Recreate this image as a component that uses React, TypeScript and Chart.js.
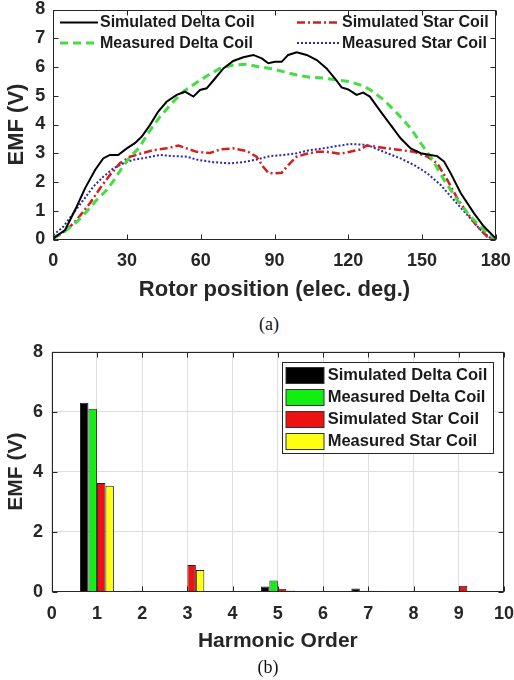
import React, { useEffect, useRef } from 'react';
import { Chart, registerables } from 'chart.js';

Chart.register(...registerables);

const FONT = '"Liberation Sans", Arial, Helvetica, sans-serif';
const INK = '#262626';

// ---------- (a) back-EMF waveforms ----------
const seriesNames = ['Simulated Delta Coil', 'Measured Delta Coil', 'Simulated Star Coil', 'Measured Star Coil'];

const simDeltaDeg = [0, 4.8, 9.5, 12.9, 17, 20.3, 23, 26.4, 29.9, 33.2, 36, 39.3, 42.7, 46.1, 50.2, 53.6, 57, 59.7, 62.4, 65.8, 69.2, 73.2, 77.3, 81.4, 84.8, 87.5, 90.2, 92.9, 95.6, 99, 103.1, 107.2, 111.2, 114.6, 117.3, 120, 123.4, 126.1, 128.8, 133.2, 137.3, 141.3, 145.4, 149.5, 153.5, 156.2, 159, 161.7, 165.8, 171.2, 175.2, 180];
const simDeltaEmf = [0.04, 0.33, 1.14, 1.78, 2.42, 2.82, 2.94, 2.94, 3.17, 3.35, 3.58, 3.98, 4.45, 4.79, 5.03, 5.14, 4.97, 5.2, 5.26, 5.6, 5.95, 6.21, 6.34, 6.42, 6.3, 6.13, 6.18, 6.18, 6.42, 6.51, 6.42, 6.24, 5.95, 5.6, 5.29, 5.22, 5.03, 5.11, 4.97, 4.45, 3.98, 3.52, 3.17, 3.0, 2.94, 2.9, 2.71, 2.3, 1.61, 0.91, 0.45, 0.04];

const measDeltaDeg = [0, 5, 10, 13.6, 17.6, 21.7, 25, 28, 31, 35, 39, 43.4, 48.2, 52.9, 57.6, 63.1, 67.8, 73.2, 78.7, 83.4, 88.2, 93.6, 99, 104.4, 109.8, 115.3, 120.7, 126.1, 129.1, 134.5, 139.9, 145.4, 149.5, 153.5, 159, 164.4, 169.8, 175.2, 179.3];
const measDeltaEmf = [0.04, 0.3, 0.65, 0.97, 1.37, 1.72, 2.1, 2.5, 2.85, 3.2, 3.75, 4.27, 4.74, 5.14, 5.42, 5.72, 5.95, 6.07, 6.1, 6.01, 5.95, 5.84, 5.72, 5.64, 5.62, 5.55, 5.49, 5.34, 5.2, 4.85, 4.39, 3.87, 3.35, 2.88, 2.07, 1.37, 0.79, 0.33, 0.04];

const simStarDeg = [0, 5.4, 9.5, 14.9, 19, 23, 27.1, 31.2, 35.3, 40.7, 46.1, 50.9, 54.3, 58.3, 63.8, 67.8, 73.2, 78.7, 82.7, 85.4, 87.5, 90.2, 92.9, 95.6, 99, 103.1, 107.2, 111.2, 116.6, 120.7, 124.8, 127.5, 130.5, 135.9, 141.3, 146.8, 152.2, 156.2, 160.3, 164.4, 168.5, 172.5, 176.6, 179.3];
const simStarEmf = [0.04, 0.33, 0.68, 1.26, 1.78, 2.24, 2.65, 2.88, 2.98, 3.11, 3.17, 3.27, 3.17, 3.05, 3.01, 3.13, 3.17, 3.08, 2.88, 2.53, 2.32, 2.3, 2.32, 2.59, 2.88, 2.98, 3.05, 3.05, 2.98, 3.05, 3.13, 3.27, 3.24, 3.17, 3.11, 3.05, 2.88, 2.65, 2.07, 1.43, 0.91, 0.45, 0.1, 0.0];

const measStarDeg = [0, 4.1, 8.1, 12.2, 16.3, 20.3, 24.4, 28.5, 32.5, 38, 43.4, 48.8, 54.3, 58.3, 65.1, 71.9, 77.3, 82.7, 88.2, 93.6, 99, 104.4, 109.8, 115.3, 120.7, 126.1, 129.1, 135.9, 141.3, 146.8, 152.2, 157.6, 163, 168.5, 173.9, 178, 179.5];
const measStarEmf = [0.15, 0.45, 0.91, 1.37, 1.84, 2.18, 2.47, 2.65, 2.77, 2.85, 2.94, 2.9, 2.88, 2.78, 2.69, 2.65, 2.69, 2.78, 2.9, 2.94, 3.0, 3.11, 3.17, 3.25, 3.32, 3.3, 3.24, 3.0, 2.82, 2.59, 2.3, 1.9, 1.37, 0.85, 0.33, 0.04, 0.02];

const angleTicks = [0, 30, 60, 90, 120, 150, 180];

// ---------- (b) harmonic spectrum ----------
const harmonicOrders = [1, 2, 3, 4, 5, 6, 7, 8, 9];
const simDeltaHarm = [6.3, null, null, null, 0.17, null, 0.11, null, null];
const measDeltaHarm = [6.1, 0.03, null, null, 0.37, null, 0.03, null, null];
const simStarHarm = [3.62, null, 0.89, null, 0.1, null, 0.03, null, 0.2];
const measStarHarm = [3.53, null, 0.72, null, 0.04, null, 0.02, null, null];

const pts = (xs: number[], ys: (number | null)[]) => xs.map((x, i) => ({ x, y: ys[i] }));

const boxPlugin = {
  id: 'matlabBox',
  afterDraw(chart: any) {
    const { ctx, chartArea, scales } = chart;
    const L = Math.round(chartArea.left) + 0.5;
    const R = Math.round(chartArea.right) - 0.5;
    const T = Math.round(chartArea.top) + 0.5;
    const B = Math.round(chartArea.bottom) - 0.5;
    ctx.save();
    ctx.strokeStyle = INK;
    ctx.lineWidth = 1;
    ctx.setLineDash([]);
    ctx.strokeRect(L, T, R - L, B - T);
    const len = 5;
    ctx.beginPath();
    scales.x.ticks.forEach((_: any, i: number) => {
      const p = Math.round(scales.x.getPixelForTick(i)) + 0.5;
      ctx.moveTo(p, B); ctx.lineTo(p, B - len);
      ctx.moveTo(p, T); ctx.lineTo(p, T + len);
    });
    scales.y.ticks.forEach((_: any, i: number) => {
      const p = Math.round(scales.y.getPixelForTick(i)) + 0.5;
      ctx.moveTo(L, p); ctx.lineTo(L + len, p);
      ctx.moveTo(R, p); ctx.lineTo(R - len, p);
    });
    ctx.stroke();
    ctx.restore();
  },
};

const lineLegendPlugin = {
  id: 'lineLegend',
  afterDraw(chart: any) {
    const { ctx, chartArea } = chart;
    const L = chartArea.left;
    const T = chartArea.top;
    ctx.save();
    ctx.font = `bold 16px ${FONT}`;
    ctx.textBaseline = 'middle';
    ctx.fillStyle = '#1a1a1a';
    chart.data.datasets.forEach((ds: any, i: number) => {
      const col = i >= 2 ? 1 : 0;
      const row = i % 2;
      const x0 = L + (col === 0 ? 6.7 : 243.7);
      const x1 = x0 + (col === 0 ? 38 : 43);
      const y = T + (row === 0 ? 13 : 33.5);
      ctx.strokeStyle = ds.borderColor;
      ctx.lineWidth = ds.borderWidth;
      ctx.setLineDash(ds.borderDash || []);
      ctx.beginPath();
      ctx.moveTo(x0, y);
      ctx.lineTo(x1, y);
      ctx.stroke();
      ctx.setLineDash([]);
      ctx.fillText(ds.label, x1 + 2, y + 0.5);
    });
    ctx.restore();
  },
};

const barLegendPlugin = {
  id: 'barLegend',
  afterDraw(chart: any) {
    const { ctx, chartArea } = chart;
    const right = Math.round(chartArea.right - 10.7) + 0.5;
    const left = Math.round(right - 211.8) + 0.5;
    const top = Math.round(chartArea.top + 10.6) + 0.5;
    const bottom = top + 91;
    ctx.save();
    ctx.fillStyle = '#ffffff';
    ctx.fillRect(left, top, right - left, bottom - top);
    ctx.strokeStyle = INK;
    ctx.lineWidth = 1;
    ctx.strokeRect(left, top, right - left, bottom - top);
    ctx.font = `bold 16.5px ${FONT}`;
    ctx.textBaseline = 'middle';
    chart.data.datasets.forEach((ds: any, i: number) => {
      const cy = top + 12.4 + i * 21.9;
      const sx = left + 3.5;
      const sy = Math.round(cy - 8) + 0.5;
      ctx.fillStyle = ds.backgroundColor;
      ctx.fillRect(sx, sy, 38, 16);
      ctx.strokeStyle = '#333333';
      ctx.strokeRect(sx, sy, 38, 16);
      ctx.fillStyle = '#1a1a1a';
      ctx.fillText(ds.label, left + 45.2, cy + 0.5);
    });
    ctx.restore();
  },
};

function WaveChart() {
  const ref = useRef<HTMLCanvasElement | null>(null);
  useEffect(() => {
    if (!ref.current) return;
    const chart = new Chart(ref.current, {
      type: 'line',
      data: {
        datasets: [
          { label: seriesNames[0], data: pts(simDeltaDeg, simDeltaEmf), borderColor: '#000000', borderWidth: 2, borderDash: [], pointRadius: 0, tension: 0, fill: false },
          { label: seriesNames[1], data: pts(measDeltaDeg, measDeltaEmf), borderColor: '#44dd44', borderWidth: 3, borderDash: [8, 5], pointRadius: 0, tension: 0, fill: false },
          { label: seriesNames[2], data: pts(simStarDeg, simStarEmf), borderColor: '#d02020', borderWidth: 2.5, borderDash: [8, 3, 2, 3], pointRadius: 0, tension: 0, fill: false },
          { label: seriesNames[3], data: pts(measStarDeg, measStarEmf), borderColor: '#2a2aa8', borderWidth: 2, borderDash: [2, 2], pointRadius: 0, tension: 0, fill: false },
        ],
      },
      options: {
        animation: false,
        responsive: false,
        events: [],
        layout: { padding: { top: 9.5, right: 18.3, bottom: 0, left: 0 }, autoPadding: false },
        plugins: { legend: { display: false }, tooltip: { enabled: false } },
        scales: {
          x: {
            type: 'linear',
            min: 0,
            max: 180,
            afterBuildTicks: (s: any) => { s.ticks = angleTicks.map((v) => ({ value: v })); },
            afterFit: (s: any) => { s.height = 70.5; s.paddingLeft = 0; s.paddingRight = 0; },
            grid: { display: false, drawTicks: false },
            border: { display: false },
            ticks: { padding: 11.2, color: INK, font: { family: FONT, size: 18, weight: 'bold' }, maxRotation: 0, autoSkip: false },
            title: { display: true, text: 'Rotor position (elec. deg.)', color: INK, padding: { top: 0, bottom: 7.3 }, font: { family: FONT, size: 22, weight: 'bold' } },
          },
          y: {
            type: 'linear',
            min: 0,
            max: 8,
            ticks: { stepSize: 1, padding: 8, color: INK, font: { family: FONT, size: 18, weight: 'bold' } },
            afterFit: (s: any) => { s.width = 53.3; s.paddingTop = 0; s.paddingBottom = 0; },
            grid: { display: false, drawTicks: false },
            border: { display: false },
            title: { display: true, text: 'EMF (V)', color: INK, padding: { top: 3.3, bottom: 0 }, font: { family: FONT, size: 22, weight: 'bold' } },
          },
        },
      } as any,
      plugins: [boxPlugin, lineLegendPlugin],
    });
    return () => chart.destroy();
  }, []);
  return <canvas ref={ref} width={514} height={310} style={{ position: 'absolute', left: 0, top: 0, width: 514, height: 310 }} />;
}

function HarmonicChart() {
  const ref = useRef<HTMLCanvasElement | null>(null);
  useEffect(() => {
    if (!ref.current) return;
    const mk = (label: string, vals: (number | null)[], color: string) => ({
      label,
      data: pts(harmonicOrders, vals),
      backgroundColor: color,
      borderColor: '#222222',
      borderWidth: 1,
      categoryPercentage: 0.75,
      barPercentage: 1.0,
    });
    const chart = new Chart(ref.current, {
      type: 'bar',
      data: {
        datasets: [
          mk(seriesNames[0], simDeltaHarm, '#000000'),
          mk(seriesNames[1], measDeltaHarm, '#11ee11'),
          mk(seriesNames[2], simStarHarm, '#ee1111'),
          mk(seriesNames[3], measStarHarm, '#ffff11'),
        ],
      },
      options: {
        animation: false,
        responsive: false,
        events: [],
        layout: { padding: { top: 16.7, right: 10, bottom: 0, left: 0 }, autoPadding: false },
        plugins: { legend: { display: false }, tooltip: { enabled: false } },
        scales: {
          x: {
            type: 'linear',
            min: 0,
            max: 10,
            offset: false,
            ticks: { stepSize: 1, padding: 11.2, color: INK, font: { family: FONT, size: 18, weight: 'bold' }, maxRotation: 0, autoSkip: false },
            afterFit: (s: any) => { s.height = 88.3; s.paddingLeft = 0; s.paddingRight = 0; },
            grid: { display: true, color: '#dedede', lineWidth: 1, drawTicks: false, offset: false },
            border: { display: false },
            title: { display: true, text: 'Harmonic Order', color: INK, padding: { top: 0, bottom: 26.2 }, font: { family: FONT, size: 21, weight: 'bold' } },
          },
          y: {
            type: 'linear',
            min: 0,
            max: 8,
            ticks: { stepSize: 2, padding: 8.7, color: INK, font: { family: FONT, size: 18, weight: 'bold' } },
            afterFit: (s: any) => { s.width = 51.7; s.paddingTop = 0; s.paddingBottom = 0; },
            grid: { display: true, color: '#dedede', lineWidth: 1, drawTicks: false },
            border: { display: false },
            title: { display: true, text: 'EMF (V)', color: INK, padding: { top: 3.9, bottom: 0 }, font: { family: FONT, size: 21, weight: 'bold' } },
          },
        },
      } as any,
      plugins: [boxPlugin, barLegendPlugin],
    });
    return () => chart.destroy();
  }, []);
  return <canvas ref={ref} width={514} height={345} style={{ position: 'absolute', left: 0, top: 335, width: 514, height: 345 }} />;
}

const captionStyle: React.CSSProperties = {
  position: 'absolute',
  transform: 'translateX(-50%)',
  fontFamily: '"Liberation Serif", "Times New Roman", serif',
  fontSize: 18,
  lineHeight: '20px',
  color: '#111',
  whiteSpace: 'nowrap',
};

export default function App() {
  return (
    <div style={{ position: 'absolute', left: 0, top: 0, width: 514, height: 680, background: '#ffffff', overflow: 'hidden' }}>
      <WaveChart />
      <div style={{ ...captionStyle, left: 269, top: 314 }}>(a)</div>
      <HarmonicChart />
      <div style={{ ...captionStyle, left: 268, top: 657 }}>(b)</div>
    </div>
  );
}
